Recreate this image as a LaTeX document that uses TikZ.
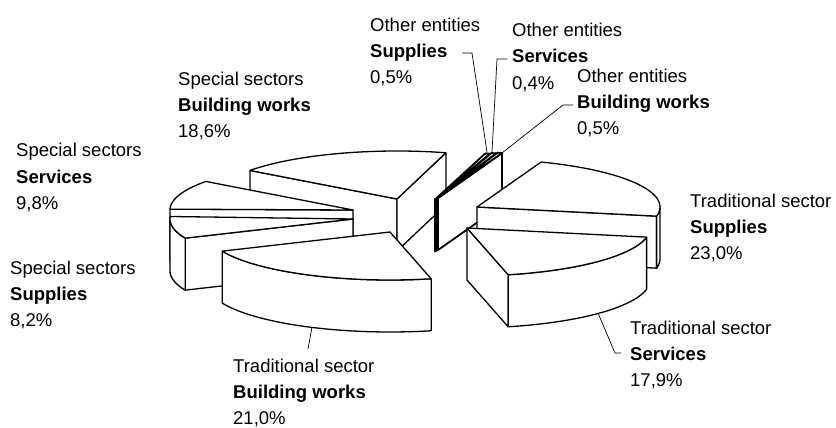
\documentclass[tikz,border=0pt]{standalone}
\usepackage{fontspec}
\setmainfont{Liberation Sans}
\begin{document}
\begin{tikzpicture}[x=1pt,y=-1pt,
  face/.style={fill=white,draw=black,line width=1.3pt,line join=round},
  sliver/.style={face,line width=1.8pt},
  leader/.style={draw=black,line width=0.7pt},
  lbl/.style={anchor=base west,inner sep=0pt,font=\fontsize{18.5}{22}\selectfont}]
\useasboundingbox (0,0) rectangle (836,428);
\def\RX{183}\def\RY{48}\def\SH{52}
\newcommand\topface[5][face]{\filldraw[#1] (#2,#3) -- plot[domain=#4:#5,samples=30] ({#2+\RX*cos(\x)},{#3+\RY*sin(\x)}) -- cycle;}
\newcommand\rimface[4]{\filldraw[face] plot[domain=#3:#4,samples=30] ({#1+\RX*cos(\x)},{#2+\RY*sin(\x)}) -- plot[domain=#4:#3,samples=30] ({#1+\RX*cos(\x)},{#2+\SH+\RY*sin(\x)}) -- cycle;}
\newcommand\sideface[4][face]{\filldraw[#1] (#2,#3) -- ({#2+\RX*cos(#4)},{#3+\RY*sin(#4)}) -- ++(0,\SH) -- ({#2},{#3+\SH}) -- cycle;}
\newcommand\lab[6]{%
  \node[lbl] (#1a) at (#2,#3) {#4};
  \node[lbl,font=\fontsize{18.5}{22}\selectfont\bfseries] (#1b) at (#2,#3+26) {#5};
  \node[lbl] (#1c) at (#2,#3+52) {#6};}
% Special sectors - Building works
\sideface{397}{199}{216.5}
\sideface{397}{199}{285.5}
\topface{397}{199}{216.5}{285.5}
% Special sectors - Services
\sideface{353}{210}{181}
\topface{353}{210}{181}{216.5}
% Special sectors - Supplies
\sideface{353}{219}{156.5}
\rimface{353}{219}{156.5}{180}
\topface{353}{219}{156.5}{183}
% Other entities (three slivers)
\sideface[sliver]{435}{199.5}{287.5}
\topface[sliver]{435}{199.5}{286}{287.5}
\sideface[sliver]{436.5}{198.8}{289}
\topface[sliver]{436.5}{198.8}{287.5}{289}
\sideface[sliver]{438}{198}{290.5}
\topface[sliver]{438}{198}{289}{290.5}
% Traditional sector - Supplies
\sideface{477}{207}{371}
\rimface{477}{207}{360}{371}
\topface{477}{207}{290.5}{371}
% Traditional sector - Building works
\rimface{390}{232}{77}{156.5}
\topface{390}{232}{77}{156.5}
% Traditional sector - Services
\sideface{467}{228}{77}
\rimface{467}{228}{11}{77}
\topface{467}{228}{11}{77}
% labels
\lab{osup}{370}{32}{Other entities}{Supplies}{0,5\%}
\lab{sbw}{178}{85}{Special sectors}{Building works}{18,6\%}
\lab{oserv}{512}{37}{Other entities}{Services}{0,4\%}
\lab{obw}{577}{83}{Other entities}{Building works}{0,5\%}
\lab{tsup}{690}{207}{Traditional sector}{Supplies}{23,0\%}
\lab{tserv}{630}{334}{Traditional sector}{Services}{17,9\%}
\lab{tbw}{233}{372}{Traditional sector}{Building works}{21,0\%}
\lab{sserv}{16}{157}{Special sectors}{Services}{9,8\%}
\lab{ssup}{10}{274}{Special sectors}{Supplies}{8,2\%}
% leader lines
\coordinate (osup1) at (462,53); \coordinate (osup2) at (472,53); \coordinate (osup3) at (487,152);
\coordinate (oserv1) at (507,59); \coordinate (oserv2) at (497,59); \coordinate (oserv3) at (492,152);
\coordinate (obw1) at (573,105); \coordinate (obw2) at (563,105); \coordinate (obw3) at (502,153);
\coordinate (tbw1) at (312,327); \coordinate (tbw2) at (308,349);
\coordinate (tserv1) at (598,313); \coordinate (tserv2) at (615,353); \coordinate (tserv3) at (621,353);
\draw[leader] (osup1) -- (osup2) -- (osup3);
\draw[leader] (oserv1) -- (oserv2) -- (oserv3);
\draw[leader] (obw1) -- (obw2) -- (obw3);
\draw[leader] (tbw1) -- (tbw2);
\draw[leader] (tserv1) -- (tserv2) -- (tserv3);
\end{tikzpicture}
\end{document}
